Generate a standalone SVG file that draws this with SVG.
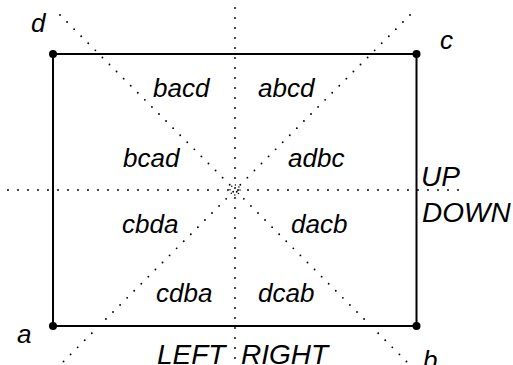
<svg xmlns="http://www.w3.org/2000/svg" width="513" height="365" viewBox="0 0 513 365">
<style>
.dot{stroke:#000;stroke-width:1.9;stroke-linecap:round;stroke-dasharray:0 10;fill:none}
.edge{stroke:#000;stroke-width:2;fill:none}
.v{fill:#000}
text{font-family:"Liberation Sans",Arial,sans-serif;font-style:italic;fill:#000}
.lo{font-size:26px}
.up{font-size:28px}
</style>
<rect width="513" height="365" fill="#fff"/>
<g id="guides">
<line class="dot" x1="235" y1="8" x2="235" y2="372"/>
<line class="dot" x1="8" y1="190" x2="462" y2="190"/>
<line class="dot" x1="60" y1="15" x2="410" y2="365"/>
<line class="dot" x1="410" y1="15" x2="60" y2="365"/>
<circle class="dot" cx="235" cy="190" r="5" style="stroke-dasharray:0 3.9;stroke-width:1.5"/>
</g>
<g id="connectors">
<line class="edge" x1="53" y1="54" x2="416.5" y2="54"/>
<line class="edge" x1="416.5" y1="54" x2="416.5" y2="326"/>
<line class="edge" x1="416.5" y1="326" x2="53" y2="326"/>
<line class="edge" x1="53" y1="326" x2="53" y2="54"/>
</g>
<g id="node-a"><circle class="v" cx="53" cy="326" r="4"/><text class="lo" x="17" y="343">a</text></g>
<g id="node-b"><circle class="v" cx="416.5" cy="326" r="4"/><text class="lo" x="423" y="369">b</text></g>
<g id="node-c"><circle class="v" cx="416.5" cy="54" r="4"/><text class="lo" x="440" y="49">c</text></g>
<g id="node-d"><circle class="v" cx="53" cy="54" r="4"/><text class="lo" x="31" y="32">d</text></g>
<g id="regions">
<text class="lo" x="153" y="97">bacd</text>
<text class="lo" x="258" y="97">abcd</text>
<text class="lo" x="123" y="167">bcad</text>
<text class="lo" x="288" y="167">adbc</text>
<text class="lo" x="122" y="233">cbda</text>
<text class="lo" x="291" y="233">dacb</text>
<text class="lo" x="156" y="302">cdba</text>
<text class="lo" x="258" y="302">dcab</text>
</g>
<g id="directions">
<text class="up" x="157" y="363.5">LEFT</text>
<text class="up" x="241" y="363.5">RIGHT</text>
<text class="up" x="421" y="186">UP</text>
<text class="up" x="422" y="222">DOWN</text>
</g>
</svg>
